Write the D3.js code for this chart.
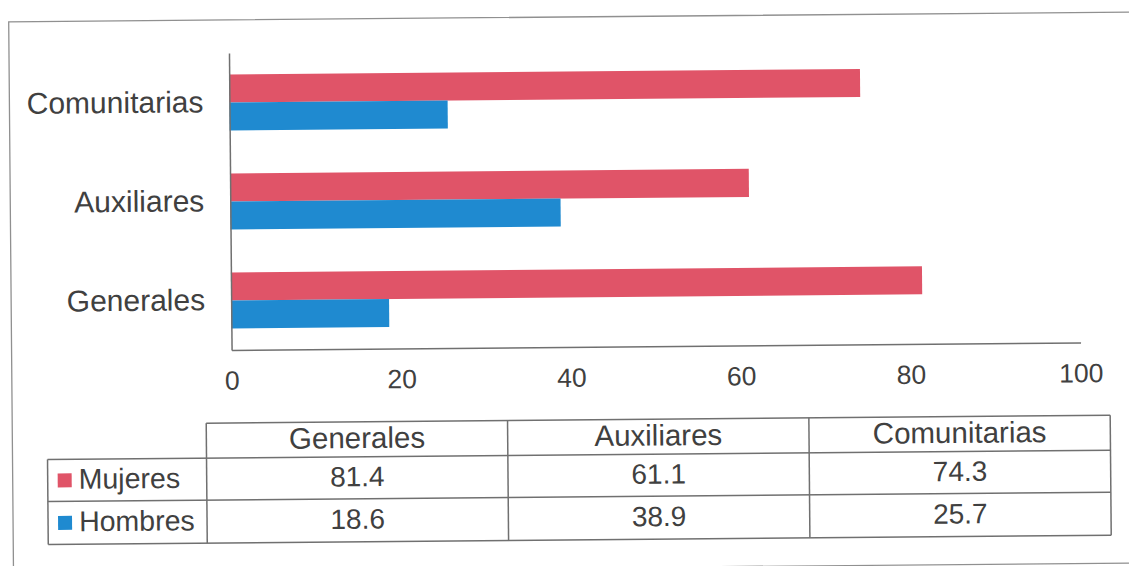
<!DOCTYPE html>
<html>
<head>
<meta charset="utf-8">
<script src="https://cdn.jsdelivr.net/npm/d3@7"></script>
<style>
  body { margin: 0; background: #fff; }
  text { font-family: "Liberation Sans", Arial, sans-serif; fill: #404040; }
</style>
</head>
<body>
<svg id="chart" width="1129" height="566"></svg>
<script>
const categories = ["Generales", "Auxiliares", "Comunitarias"];
const seriesNames = ["Mujeres", "Hombres"];
const mujeres = [81.4, 61.1, 74.3];
const hombres = [18.6, 38.9, 25.7];
const xTicks = [0, 20, 40, 60, 80, 100];

const colors = { Mujeres: "#e05468", Hombres: "#1f8ad0" };
const values = { Mujeres: mujeres, Hombres: hombres };

const svg = d3.select("#chart");
// the scan is tilted a little
const root = svg.append("g").attr("transform", "rotate(-0.5, 564, 283)");

// outer frame
root.append("path")
  .attr("d", d3.line()([[11, 580], [11, 17], [1140, 17]]))
  .attr("fill", "none")
  .attr("stroke", "#909090")
  .attr("stroke-width", 1.3);
root.append("path")
  .attr("d", d3.line()([[11, 568], [1140, 568]]))
  .attr("stroke", "#909090")
  .attr("stroke-width", 1.3);

const plot = { top: 50, bottom: 347, left: 231, right: 1080 };

const x = d3.scaleLinear().domain([0, 100]).range([plot.left, plot.right]);
const y = d3.scaleBand()
  .domain(categories.slice().reverse())
  .range([plot.top, plot.bottom])
  .paddingInner(0.434)
  .paddingOuter(0.217);
const ySeries = d3.scaleBand().domain(seriesNames).range([0, y.bandwidth()]);

// bars
const groups = root.append("g")
  .selectAll("g")
  .data(categories)
  .join("g")
  .attr("transform", (d) => `translate(0, ${y(d)})`);

groups.selectAll("rect")
  .data((d, i) => seriesNames.map((s) => ({ s, v: values[s][i] })))
  .join("rect")
  .attr("x", x(0))
  .attr("y", (d) => ySeries(d.s))
  .attr("height", ySeries.bandwidth())
  .attr("width", (d) => x(d.v) - x(0))
  .attr("fill", (d) => colors[d.s]);

// axes
const xAxis = root.append("g")
  .attr("transform", `translate(0, ${plot.bottom})`)
  .call(d3.axisBottom(x).tickValues(xTicks).tickSize(0).tickPadding(21));
xAxis.selectAll("text").attr("font-size", 26.5).attr("fill", "#404040");
xAxis.select(".domain").attr("stroke", "#707070").attr("stroke-width", 1.5);

const yAxis = root.append("g")
  .attr("transform", `translate(${plot.left}, 0)`)
  .call(d3.axisLeft(y).tickSize(0).tickPadding(26));
yAxis.selectAll("text").attr("font-size", 30).attr("fill", "#404040");
yAxis.select(".domain").attr("stroke", "#707070").attr("stroke-width", 1.5);

// data table
const table = { left: 46, colLeft: 205, right: 1109, rows: [420, 455, 497, 540] };
const col = d3.scaleBand().domain(categories).range([table.colLeft, table.right]);
const tg = root.append("g");
const lineStroke = "#707070";

function hline(y0, x0, x1) {
  tg.append("path").attr("d", d3.line()([[x0, y0], [x1, y0]]))
    .attr("stroke", lineStroke).attr("stroke-width", 1.5);
}
function vline(x0, y0, y1) {
  tg.append("path").attr("d", d3.line()([[x0, y0], [x0, y1]]))
    .attr("stroke", lineStroke).attr("stroke-width", 1.5);
}

const [r0, r1, r2, r3] = table.rows;
hline(r0, table.colLeft, table.right);
hline(r1, table.left, table.right);
hline(r2, table.left, table.right);
hline(r3, table.left, table.right);
vline(table.left, r1, r3);
categories.forEach((c) => vline(col(c), r0, r3));
vline(table.right, r0, r3);

// header
tg.selectAll(".hdr")
  .data(categories)
  .join("text")
  .attr("class", "hdr")
  .attr("x", (d) => col(d) + col.bandwidth() / 2)
  .attr("y", (r0 + r1) / 2 + 1)
  .attr("text-anchor", "middle")
  .attr("dominant-baseline", "middle")
  .attr("font-size", 29.5)
  .text((d) => d);

// rows
seriesNames.forEach((s, si) => {
  const top = table.rows[si + 1];
  const bottom = table.rows[si + 2];
  const mid = (top + bottom) / 2;
  tg.append("rect")
    .attr("x", 56)
    .attr("y", mid - 7)
    .attr("width", 14)
    .attr("height", 14)
    .attr("fill", colors[s]);
  tg.append("text")
    .attr("x", 77)
    .attr("y", mid + 1)
    .attr("dominant-baseline", "middle")
    .attr("font-size", 28.5)
    .text(s);
  tg.selectAll(`.val-${s}`)
    .data(values[s])
    .join("text")
    .attr("x", (d, i) => col(categories[i]) + col.bandwidth() / 2)
    .attr("y", mid + 1)
    .attr("text-anchor", "middle")
    .attr("dominant-baseline", "middle")
    .attr("font-size", 28)
    .text((d) => d.toFixed(1));
});
</script>
</body>
</html>
